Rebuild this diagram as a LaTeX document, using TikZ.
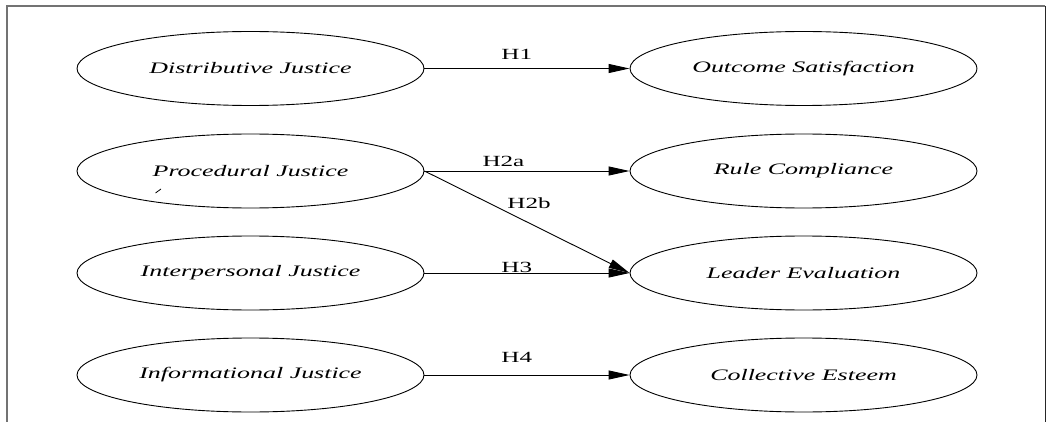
\documentclass[tikz,border=0pt]{standalone}
\usepackage{fontspec}
\setmainfont{Liberation Serif}
\newfontfamily\widefont[FakeStretch=1.62]{Liberation Serif}
\usetikzlibrary{shapes.geometric,arrows.meta}

\tikzset{
  construct/.style={draw, line width=0.9pt, ellipse, inner sep=0pt,
    minimum width=347pt, minimum height=74pt,
    font=\widefont\itshape\fontsize{16}{19}\selectfont},
  path/.style={draw, line width=0.9pt, -{Triangle[length=21pt,width=9pt]}},
  hyp/.style={font=\widefont\fontsize{15.5}{18}\selectfont, inner sep=0pt}
}

\begin{document}
\begin{tikzpicture}[x=1pt,y=-1pt]
  \useasboundingbox (0,0) rectangle (1048,422);

  % frame around the model
  \draw[black!55, line width=1.6pt] (7,422) -- (7,6) -- (1045,6);
  \draw[black!85, line width=1pt] (1045,6) -- (1045,422);

  % justice dimensions
  \node[construct] (dj) at (250.5,68.5) {Distributive Justice};
  \node[construct] (pj) at (250.5,171)  {Procedural Justice};
  \node[construct] (ipj) at (250.5,273) {Interpersonal Justice};
  \node[construct] (ifj) at (250.5,375) {Informational Justice};

  % outcomes
  \node[construct] (os) at (803.5,68.5) {Outcome Satisfaction};
  \node[construct] (rc) at (803.5,171)  {Rule Compliance};
  \node[construct] (le) at (803.5,273)  {Leader Evaluation};
  \node[construct] (ce) at (803.5,375)  {Collective Esteem};

  % hypothesised paths
  \draw[path] (dj) -- node[hyp, pos=0.45, yshift=14pt] (h1) {H1} (os);
  \draw[path] (pj.east) -- node[hyp, pos=0.385, yshift=10pt] (h2a) {H2a} (rc.west);
  \draw[path] (pj.east) -- node[hyp, pos=0.5, xshift=2pt, yshift=19pt] (h2b) {H2b} (le.west);
  \draw[path] (ipj) -- node[hyp, pos=0.45, yshift=6pt] (h3) {H3} (le);
  \draw[path] (ifj) -- node[hyp, pos=0.45, yshift=18pt] (h4) {H4} (ce);

  % small stroke inside the procedural justice ellipse
  \draw[line width=0.8pt] (155.5,193) -- (161,189);
\end{tikzpicture}
\end{document}
